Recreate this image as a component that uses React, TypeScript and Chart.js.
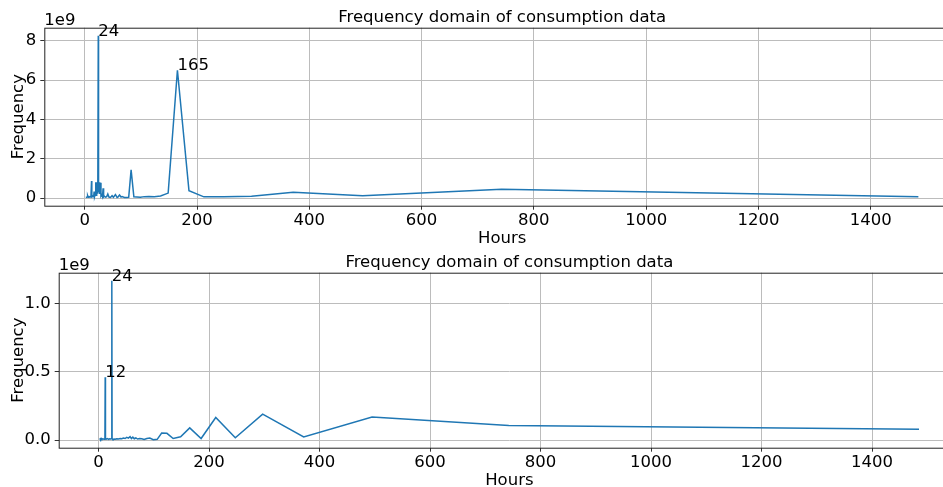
import React, { useEffect, useRef } from "react";
import { Chart, registerables } from "chart.js";

Chart.register(...registerables);

// Period of each spectral component (hours) and its magnitude (units of 1e9)
const topHours = [
  2, 3, 4, 5, 6, 7, 8, 9, 10, 11,
  12, 12.5, 13, 14, 15, 16, 16.6, 17.5, 18.5, 19.2,
  19.8, 20.5, 21.2, 22, 22.8, 23.5, 24, 24.5, 25.5, 26.2,
  27, 28, 28.8, 30, 31.5, 32.6, 33.5, 35, 37, 39,
  41, 43, 45.7, 48.6, 51, 54.6, 57.5, 59.4, 61.9, 64.6,
  66.4, 70.7, 74.25, 78.2, 82.5, 87.4, 92.8, 99, 106.1, 114.2,
  123.75, 135, 148.5, 165, 185.6, 212.1, 247.5, 297, 371.25, 495,
  742.5, 1485,
];
const topFreq = [
  0.02, 0.04, 0.05, 0.12, 0.04, 0.07, 0.05, 0.06, 0.05, 0.1,
  0.86, 0.06, 0.07, 0.1, 0.06, 0.14, 0.33, 0.08, 0.18, 0.3,
  0.8, 0.14, 0.4, 0.8, 0.22, 0.35, 8.25, 0.3, 0.8, 0.2,
  0.35, 0.78, 0.1, 0.16, 0.06, 0.49, 0.05, 0.09, 0.04, 0.07,
  0.2, 0.05, 0.03, 0.12, 0.04, 0.17, 0.03, 0.06, 0.15, 0.05,
  0.07, 0.03, 0.02, 0.03, 1.43, 0.06, 0.05, 0.04, 0.07, 0.08,
  0.07, 0.1, 0.25, 6.5, 0.37, 0.06, 0.07, 0.09, 0.29, 0.12,
  0.44, 0.07,
];
const topPeaks = [24, 165];

const bottomHours = [
  2, 3, 4, 5, 6, 8, 10, 11.5, 12, 12.5,
  14, 16, 18, 20, 22, 23.5, 24, 24.5, 26, 28,
  30, 33, 36, 39, 42, 45, 48, 51, 54, 57,
  59.4, 62, 64.6, 67.5, 70.7, 74.25, 78.2, 82.5, 87.4, 92.8,
  99, 106.1, 114.2, 123.75, 135, 148.5, 165, 185.6, 212.1, 247.5,
  297, 371.25, 495, 742.5, 1485,
];
const bottomFreq = [
  0.004, 0.01, 0.005, 0.012, 0.008, 0.01, 0.006, 0.01, 0.46, 0.012,
  0.008, 0.012, 0.006, 0.01, 0.008, 0.012, 1.168, 0.01, 0.005, 0.008,
  0.006, 0.01, 0.008, 0.012, 0.01, 0.015, 0.012, 0.02, 0.015, 0.026,
  0.012, 0.022, 0.01, 0.016, 0.008, 0.012, 0.01, 0.005, 0.012, 0.016,
  0.003, 0.006, 0.052, 0.05, 0.012, 0.025, 0.09, 0.012, 0.166, 0.017,
  0.19, 0.024, 0.169, 0.108, 0.08,
];
const bottomPeaks = [24, 12];

const xTicks = [0, 200, 400, 600, 800, 1000, 1200, 1400];
const topYTicks = [0, 2, 4, 6, 8];
const bottomYTicks = [0, 0.5, 1.0];

const titleText = "Frequency domain of consumption data";
const xLabel = "Hours";
const yLabel = "Frequency";
const offsetLabel = "1e9";

const FONT = "'DejaVu Sans', 'Liberation Sans', sans-serif";
const FONT_SIZE = 16.5;
const LINE = "#1f77b4";
const GRID = "#bcbcbc";
const CANVAS_W = 980;

// Range with a 5% margin on each side
function padded(values: number[]): [number, number] {
  const lo = Math.min(...values);
  const hi = Math.max(...values);
  const m = (hi - lo) * 0.05;
  return [lo - m, hi + m];
}

type PanelProps = {
  hours: number[];
  freq: number[];
  peaks: number[];
  yTicks: number[];
  yDecimals: number;
  axisWidth: number;
  top: number;
  height: number;
};

function Panel({ hours, freq, peaks, yTicks, yDecimals, axisWidth, top, height }: PanelProps) {
  const ref = useRef<HTMLCanvasElement | null>(null);

  useEffect(() => {
    if (!ref.current) return;
    const [xlo, xhi] = padded(hours);
    const [ylo, yhi] = padded(freq);

    const textPlugin = {
      id: "panelText",
      afterDraw(chart: any) {
        const { ctx, chartArea, scales } = chart;
        const { left, right, top: t, bottom } = chartArea;
        ctx.save();
        // axes frame
        ctx.strokeStyle = "#222";
        ctx.lineWidth = 1;
        ctx.strokeRect(left + 0.5, t + 0.5, right - left, bottom - t);

        ctx.fillStyle = "#000";
        ctx.font = `${FONT_SIZE}px ${FONT}`;
        const cx = (left + right) / 2;

        // title
        ctx.textAlign = "center";
        ctx.textBaseline = "alphabetic";
        ctx.fillText(titleText, cx, t - 6);

        // x label
        ctx.fillText(xLabel, cx, bottom + 37.6);

        // y label
        ctx.save();
        ctx.translate(23, (t + bottom) / 2);
        ctx.rotate(-Math.PI / 2);
        ctx.fillText(yLabel, 0, 0);
        ctx.restore();

        // scale offset
        ctx.textAlign = "left";
        ctx.fillText(offsetLabel, left, t - 2.5);

        // peak annotations
        peaks.forEach((h) => {
          const i = hours.indexOf(h);
          if (i < 0) return;
          const px = scales.x.getPixelForValue(hours[i]);
          const py = scales.y.getPixelForValue(freq[i]);
          ctx.fillText(String(hours[i]), px, py);
        });
        ctx.restore();
      },
    };

    const chart = new Chart(ref.current, {
      type: "line",
      data: {
        datasets: [
          {
            data: hours.map((h, i) => ({ x: h, y: freq[i] })),
            borderColor: LINE,
            borderWidth: 1.5,
            pointRadius: 0,
            tension: 0,
            fill: false,
          },
        ],
      },
      options: {
        animation: false,
        responsive: false,
        maintainAspectRatio: false,
        devicePixelRatio: 1,
        events: [],
        layout: { padding: { left: 0, top: 27.7, right: CANVAS_W - 960, bottom: 0 } },
        plugins: {
          legend: { display: false },
          tooltip: { enabled: false },
          title: { display: false },
        },
        scales: {
          x: {
            type: "linear",
            min: xlo,
            max: xhi,
            afterBuildTicks: (s: any) => {
              s.ticks = xTicks.map((v) => ({ value: v }));
            },
            afterFit: (s: any) => {
              s.height = 39.3;
            },
            grid: { color: GRID, lineWidth: 1, tickColor: "#333", tickLength: 4, drawTicks: true },
            border: { display: false },
            ticks: {
              font: { family: FONT, size: FONT_SIZE },
              color: "#000",
              padding: 1,
              maxRotation: 0,
              autoSkip: false,
              callback: (v: any) => String(v),
            },
          },
          y: {
            type: "linear",
            min: ylo,
            max: yhi,
            afterBuildTicks: (s: any) => {
              s.ticks = yTicks.map((v) => ({ value: v }));
            },
            afterFit: (s: any) => {
              s.width = axisWidth;
            },
            grid: { color: GRID, lineWidth: 1, tickColor: "#333", tickLength: 4, drawTicks: true },
            border: { display: false },
            ticks: {
              font: { family: FONT, size: FONT_SIZE },
              color: "#000",
              padding: 4,
              autoSkip: false,
              callback: (v: any) => Number(v).toFixed(yDecimals),
            },
          },
        },
      },
      plugins: [textPlugin],
    } as any);

    return () => chart.destroy();
  }, [hours, freq, peaks, yTicks, yDecimals, axisWidth]);

  return (
    <div style={{ position: "absolute", left: 0, top, width: CANVAS_W, height }}>
      <canvas ref={ref} width={CANVAS_W} height={height} style={{ width: CANVAS_W, height, display: "block" }} />
    </div>
  );
}

export default function App() {
  return (
    <div
      style={{
        position: "fixed",
        left: 0,
        top: 0,
        width: 943,
        height: 487,
        overflow: "hidden",
        background: "#fff",
      }}
    >
      <Panel
        hours={topHours}
        freq={topFreq}
        peaks={topPeaks}
        yTicks={topYTicks}
        yDecimals={0}
        axisWidth={44.3}
        top={0}
        height={245}
      />
      <Panel
        hours={bottomHours}
        freq={bottomFreq}
        peaks={bottomPeaks}
        yTicks={bottomYTicks}
        yDecimals={1}
        axisWidth={58.7}
        top={245}
        height={242}
      />
    </div>
  );
}
